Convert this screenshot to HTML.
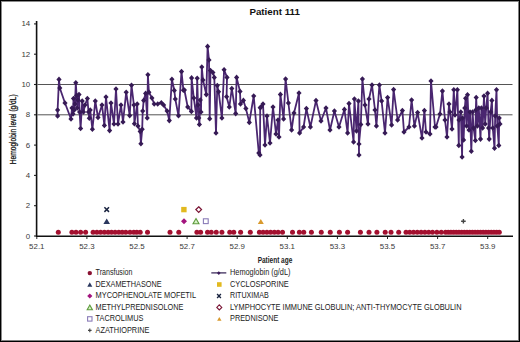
<!DOCTYPE html>
<html><head><meta charset="utf-8"><style>
html,body{margin:0;padding:0;background:#fff;}
body{width:520px;height:342px;overflow:hidden;font-family:"Liberation Sans", sans-serif;}
svg{display:block;}
</style></head><body>
<svg width="520" height="342" viewBox="0 0 520 342"><rect x="0" y="0" width="520" height="342" fill="#fff"/>
<rect x="0" y="1" width="520" height="1" fill="#8a8a8a"/>
<rect x="1" y="0" width="1" height="342" fill="#8a8a8a"/>
<rect x="518" y="0" width="1" height="342" fill="#808080"/>
<rect x="0" y="340" width="520" height="1" fill="#808080"/>
<rect x="0" y="0" width="520" height="1" fill="#000"/>
<rect x="0" y="0" width="1" height="342" fill="#000"/>
<rect x="519" y="0" width="1" height="342" fill="#000"/>
<rect x="0" y="341" width="520" height="1" fill="#000"/>
<text x="249.4" y="15.3" font-family="Liberation Sans, sans-serif" font-size="9.5" font-weight="bold" fill="#111" textLength="50.5" lengthAdjust="spacingAndGlyphs">Patient 111</text>
<line x1="37.5" y1="114.80" x2="512.5" y2="114.80" stroke="#555" stroke-width="1"/>
<line x1="37.5" y1="84.50" x2="512.5" y2="84.50" stroke="#555" stroke-width="1"/>
<line x1="34" y1="236.00" x2="37" y2="236.00" stroke="#222" stroke-width="1.1"/>
<text x="30.2" y="238.50" text-anchor="end" font-family="Liberation Sans, sans-serif" font-size="7.9" fill="#3a3a3a">0</text>
<line x1="34" y1="205.70" x2="37" y2="205.70" stroke="#222" stroke-width="1.1"/>
<text x="30.2" y="208.20" text-anchor="end" font-family="Liberation Sans, sans-serif" font-size="7.9" fill="#3a3a3a">2</text>
<line x1="34" y1="175.40" x2="37" y2="175.40" stroke="#222" stroke-width="1.1"/>
<text x="30.2" y="177.90" text-anchor="end" font-family="Liberation Sans, sans-serif" font-size="7.9" fill="#3a3a3a">4</text>
<line x1="34" y1="145.10" x2="37" y2="145.10" stroke="#222" stroke-width="1.1"/>
<text x="30.2" y="147.60" text-anchor="end" font-family="Liberation Sans, sans-serif" font-size="7.9" fill="#3a3a3a">6</text>
<line x1="34" y1="114.80" x2="37" y2="114.80" stroke="#222" stroke-width="1.1"/>
<text x="30.2" y="117.30" text-anchor="end" font-family="Liberation Sans, sans-serif" font-size="7.9" fill="#3a3a3a">8</text>
<line x1="34" y1="84.50" x2="37" y2="84.50" stroke="#222" stroke-width="1.1"/>
<text x="30.2" y="87.00" text-anchor="end" font-family="Liberation Sans, sans-serif" font-size="7.9" fill="#3a3a3a">10</text>
<line x1="34" y1="54.20" x2="37" y2="54.20" stroke="#222" stroke-width="1.1"/>
<text x="30.2" y="56.70" text-anchor="end" font-family="Liberation Sans, sans-serif" font-size="7.9" fill="#3a3a3a">12</text>
<line x1="34" y1="23.90" x2="37" y2="23.90" stroke="#222" stroke-width="1.1"/>
<text x="30.2" y="26.40" text-anchor="end" font-family="Liberation Sans, sans-serif" font-size="7.9" fill="#3a3a3a">14</text>
<line x1="36.80" y1="236" x2="36.80" y2="239" stroke="#222" stroke-width="1"/>
<text x="36.80" y="249.2" text-anchor="middle" font-family="Liberation Sans, sans-serif" font-size="7.9" fill="#3a3a3a">52.1</text>
<line x1="86.90" y1="236" x2="86.90" y2="239" stroke="#222" stroke-width="1"/>
<text x="86.90" y="249.2" text-anchor="middle" font-family="Liberation Sans, sans-serif" font-size="7.9" fill="#3a3a3a">52.3</text>
<line x1="137.00" y1="236" x2="137.00" y2="239" stroke="#222" stroke-width="1"/>
<text x="137.00" y="249.2" text-anchor="middle" font-family="Liberation Sans, sans-serif" font-size="7.9" fill="#3a3a3a">52.5</text>
<line x1="187.10" y1="236" x2="187.10" y2="239" stroke="#222" stroke-width="1"/>
<text x="187.10" y="249.2" text-anchor="middle" font-family="Liberation Sans, sans-serif" font-size="7.9" fill="#3a3a3a">52.7</text>
<line x1="237.20" y1="236" x2="237.20" y2="239" stroke="#222" stroke-width="1"/>
<text x="237.20" y="249.2" text-anchor="middle" font-family="Liberation Sans, sans-serif" font-size="7.9" fill="#3a3a3a">52.9</text>
<line x1="287.30" y1="236" x2="287.30" y2="239" stroke="#222" stroke-width="1"/>
<text x="287.30" y="249.2" text-anchor="middle" font-family="Liberation Sans, sans-serif" font-size="7.9" fill="#3a3a3a">53.1</text>
<line x1="337.40" y1="236" x2="337.40" y2="239" stroke="#222" stroke-width="1"/>
<text x="337.40" y="249.2" text-anchor="middle" font-family="Liberation Sans, sans-serif" font-size="7.9" fill="#3a3a3a">53.3</text>
<line x1="387.50" y1="236" x2="387.50" y2="239" stroke="#222" stroke-width="1"/>
<text x="387.50" y="249.2" text-anchor="middle" font-family="Liberation Sans, sans-serif" font-size="7.9" fill="#3a3a3a">53.5</text>
<line x1="437.60" y1="236" x2="437.60" y2="239" stroke="#222" stroke-width="1"/>
<text x="437.60" y="249.2" text-anchor="middle" font-family="Liberation Sans, sans-serif" font-size="7.9" fill="#3a3a3a">53.7</text>
<line x1="487.70" y1="236" x2="487.70" y2="239" stroke="#222" stroke-width="1"/>
<text x="487.70" y="249.2" text-anchor="middle" font-family="Liberation Sans, sans-serif" font-size="7.9" fill="#3a3a3a">53.9</text>
<line x1="36.6" y1="21" x2="36.6" y2="237" stroke="#111" stroke-width="1.6"/>
<line x1="36" y1="236.2" x2="513" y2="236.2" stroke="#111" stroke-width="1.6"/>
<text x="257.7" y="262.5" font-family="Liberation Sans, sans-serif" font-size="8.8" font-weight="bold" fill="#222" textLength="34.6" lengthAdjust="spacingAndGlyphs">Patient age</text>
<text transform="translate(15.8,129.3) rotate(-90)" text-anchor="middle" font-family="Liberation Sans, sans-serif" font-size="8.6" fill="#111" stroke="#111" stroke-width="0.25" textLength="70" lengthAdjust="spacingAndGlyphs">Hemoglobin level (g/dL)</text>
<circle cx="58.30" cy="232.2" r="2.5" fill="#a3102f"/>
<circle cx="71.90" cy="232.2" r="2.5" fill="#a3102f"/>
<circle cx="76.00" cy="232.2" r="2.5" fill="#a3102f"/>
<circle cx="80.60" cy="232.2" r="2.5" fill="#a3102f"/>
<circle cx="85.60" cy="232.2" r="2.5" fill="#a3102f"/>
<circle cx="93.10" cy="232.2" r="2.5" fill="#a3102f"/>
<circle cx="96.90" cy="232.2" r="2.5" fill="#a3102f"/>
<circle cx="100.60" cy="232.2" r="2.5" fill="#a3102f"/>
<circle cx="104.40" cy="232.2" r="2.5" fill="#a3102f"/>
<circle cx="108.10" cy="232.2" r="2.5" fill="#a3102f"/>
<circle cx="111.50" cy="232.2" r="2.5" fill="#a3102f"/>
<circle cx="115.10" cy="232.2" r="2.5" fill="#a3102f"/>
<circle cx="118.80" cy="232.2" r="2.5" fill="#a3102f"/>
<circle cx="122.20" cy="232.2" r="2.5" fill="#a3102f"/>
<circle cx="125.80" cy="232.2" r="2.5" fill="#a3102f"/>
<circle cx="130.00" cy="232.2" r="2.5" fill="#a3102f"/>
<circle cx="133.80" cy="232.2" r="2.5" fill="#a3102f"/>
<circle cx="136.80" cy="232.2" r="2.5" fill="#a3102f"/>
<circle cx="140.20" cy="232.2" r="2.5" fill="#a3102f"/>
<circle cx="147.50" cy="232.2" r="2.5" fill="#a3102f"/>
<circle cx="170.00" cy="232.2" r="2.5" fill="#a3102f"/>
<circle cx="178.80" cy="232.2" r="2.5" fill="#a3102f"/>
<circle cx="196.90" cy="232.2" r="2.5" fill="#a3102f"/>
<circle cx="200.60" cy="232.2" r="2.5" fill="#a3102f"/>
<circle cx="207.50" cy="232.2" r="2.5" fill="#a3102f"/>
<circle cx="211.25" cy="232.2" r="2.5" fill="#a3102f"/>
<circle cx="216.25" cy="232.2" r="2.5" fill="#a3102f"/>
<circle cx="221.90" cy="232.2" r="2.5" fill="#a3102f"/>
<circle cx="229.75" cy="232.2" r="2.5" fill="#a3102f"/>
<circle cx="233.75" cy="232.2" r="2.5" fill="#a3102f"/>
<circle cx="240.60" cy="232.2" r="2.5" fill="#a3102f"/>
<circle cx="250.30" cy="232.2" r="2.5" fill="#a3102f"/>
<circle cx="259.40" cy="232.2" r="2.5" fill="#a3102f"/>
<circle cx="263.10" cy="232.2" r="2.5" fill="#a3102f"/>
<circle cx="266.90" cy="232.2" r="2.5" fill="#a3102f"/>
<circle cx="270.60" cy="232.2" r="2.5" fill="#a3102f"/>
<circle cx="274.40" cy="232.2" r="2.5" fill="#a3102f"/>
<circle cx="278.10" cy="232.2" r="2.5" fill="#a3102f"/>
<circle cx="282.50" cy="232.2" r="2.5" fill="#a3102f"/>
<circle cx="292.50" cy="232.2" r="2.5" fill="#a3102f"/>
<circle cx="299.40" cy="232.2" r="2.5" fill="#a3102f"/>
<circle cx="303.75" cy="232.2" r="2.5" fill="#a3102f"/>
<circle cx="311.40" cy="232.2" r="2.5" fill="#a3102f"/>
<circle cx="321.25" cy="232.2" r="2.5" fill="#a3102f"/>
<circle cx="330.25" cy="232.2" r="2.5" fill="#a3102f"/>
<circle cx="339.40" cy="232.2" r="2.5" fill="#a3102f"/>
<circle cx="347.60" cy="232.2" r="2.5" fill="#a3102f"/>
<circle cx="360.40" cy="232.2" r="2.5" fill="#a3102f"/>
<circle cx="369.00" cy="232.2" r="2.5" fill="#a3102f"/>
<circle cx="376.90" cy="232.2" r="2.5" fill="#a3102f"/>
<circle cx="385.20" cy="232.2" r="2.5" fill="#a3102f"/>
<circle cx="391.00" cy="232.2" r="2.5" fill="#a3102f"/>
<circle cx="398.70" cy="232.2" r="2.5" fill="#a3102f"/>
<circle cx="406.00" cy="232.2" r="2.5" fill="#a3102f"/>
<circle cx="409.70" cy="232.2" r="2.5" fill="#a3102f"/>
<circle cx="413.50" cy="232.2" r="2.5" fill="#a3102f"/>
<circle cx="417.30" cy="232.2" r="2.5" fill="#a3102f"/>
<circle cx="421.10" cy="232.2" r="2.5" fill="#a3102f"/>
<circle cx="424.90" cy="232.2" r="2.5" fill="#a3102f"/>
<circle cx="428.70" cy="232.2" r="2.5" fill="#a3102f"/>
<circle cx="432.50" cy="232.2" r="2.5" fill="#a3102f"/>
<circle cx="436.90" cy="232.2" r="2.5" fill="#a3102f"/>
<circle cx="441.25" cy="232.2" r="2.5" fill="#a3102f"/>
<circle cx="445.50" cy="232.2" r="2.5" fill="#a3102f"/>
<circle cx="448.19" cy="232.2" r="2.5" fill="#a3102f"/>
<circle cx="450.88" cy="232.2" r="2.5" fill="#a3102f"/>
<circle cx="453.57" cy="232.2" r="2.5" fill="#a3102f"/>
<circle cx="456.26" cy="232.2" r="2.5" fill="#a3102f"/>
<circle cx="458.95" cy="232.2" r="2.5" fill="#a3102f"/>
<circle cx="461.64" cy="232.2" r="2.5" fill="#a3102f"/>
<circle cx="464.33" cy="232.2" r="2.5" fill="#a3102f"/>
<circle cx="467.02" cy="232.2" r="2.5" fill="#a3102f"/>
<circle cx="469.71" cy="232.2" r="2.5" fill="#a3102f"/>
<circle cx="472.40" cy="232.2" r="2.5" fill="#a3102f"/>
<circle cx="475.09" cy="232.2" r="2.5" fill="#a3102f"/>
<circle cx="477.78" cy="232.2" r="2.5" fill="#a3102f"/>
<circle cx="480.47" cy="232.2" r="2.5" fill="#a3102f"/>
<circle cx="483.16" cy="232.2" r="2.5" fill="#a3102f"/>
<circle cx="485.85" cy="232.2" r="2.5" fill="#a3102f"/>
<circle cx="488.54" cy="232.2" r="2.5" fill="#a3102f"/>
<circle cx="491.23" cy="232.2" r="2.5" fill="#a3102f"/>
<circle cx="493.92" cy="232.2" r="2.5" fill="#a3102f"/>
<circle cx="496.61" cy="232.2" r="2.5" fill="#a3102f"/>
<circle cx="499.30" cy="232.2" r="2.5" fill="#a3102f"/>
<path d="M57.6,116.0 L57.6,110.0 L59.0,79.4 L59.8,88.0 L65.0,103.0 L71.0,119.0 L72.0,108.0 L73.0,114.0 L73.5,98.5 L74.3,110.0 L75.0,104.0 L75.8,82.7 L76.6,95.4 L77.3,108.0 L78.0,100.0 L79.0,94.6 L79.6,112.0 L80.6,128.5 L82.2,101.0 L83.5,112.0 L85.0,105.0 L87.4,98.5 L88.5,112.0 L89.3,118.3 L90.2,110.0 L92.4,129.3 L95.3,101.0 L98.0,117.5 L102.0,105.0 L104.4,125.4 L106.0,97.0 L109.6,130.6 L111.0,103.0 L114.0,124.0 L116.0,89.0 L118.0,124.0 L121.0,105.0 L123.0,122.0 L126.2,92.2 L129.7,115.6 L131.5,85.2 L133.9,105.0 L134.4,123.8 L137.2,104.0 L137.9,126.0 L140.2,131.4 L140.9,143.7 L142.2,129.2 L142.7,111.0 L143.7,100.4 L145.6,93.4 L147.2,118.0 L147.9,74.7 L148.9,92.2 L151.9,98.0 L154.2,104.0 L157.7,104.0 L161.3,102.7 L163.6,105.0 L167.1,111.0 L169.3,120.6 L171.9,79.3 L174.3,90.4 L175.3,99.0 L178.5,115.8 L181.5,71.6 L183.4,90.2 L184.4,90.0 L187.7,107.0 L191.4,111.4 L191.6,77.9 L193.8,98.0 L196.5,118.0 L197.2,78.3 L198.0,105.0 L198.8,118.0 L199.4,124.5 L200.3,100.0 L201.0,112.0 L201.8,67.0 L203.0,80.0 L206.3,94.6 L207.6,46.4 L209.0,60.0 L209.7,118.7 L210.5,70.6 L212.9,72.5 L214.3,77.4 L216.0,133.0 L217.3,85.6 L218.6,91.7 L221.9,118.0 L224.1,69.7 L227.0,77.4 L226.6,96.8 L229.3,107.0 L231.8,88.5 L235.7,113.6 L236.6,77.4 L240.0,91.4 L240.5,104.0 L243.4,100.4 L245.9,108.5 L249.3,122.4 L253.7,96.0 L258.8,153.0 L260.0,155.0 L260.2,107.7 L261.0,107.0 L263.0,104.0 L265.0,145.0 L267.0,116.0 L270.0,143.0 L273.0,107.0 L276.0,134.0 L278.0,120.0 L279.0,137.0 L280.4,94.4 L283.6,119.0 L285.6,79.0 L288.4,103.0 L291.6,130.0 L294.0,113.0 L299.0,93.0 L299.6,133.0 L303.6,127.0 L306.4,108.6 L310.4,127.0 L316.0,100.6 L321.0,121.0 L326.0,108.0 L330.0,130.0 L334.4,111.0 L339.0,127.0 L344.4,109.4 L347.6,133.0 L349.0,103.6 L353.6,142.0 L354.4,99.0 L356.5,131.0 L358.4,101.0 L359.0,155.0 L359.0,144.0 L360.8,124.5 L362.4,79.0 L365.0,105.0 L368.0,124.0 L369.0,99.0 L372.0,85.0 L375.0,110.0 L376.4,126.0 L379.4,85.0 L381.6,101.0 L385.0,133.0 L387.6,97.6 L391.6,125.0 L393.6,89.6 L397.6,120.0 L402.4,110.6 L404.0,132.0 L409.0,127.0 L411.6,100.0 L414.4,126.0 L417.6,112.6 L422.0,138.0 L424.4,110.6 L426.0,132.0 L430.0,134.0 L431.0,81.0 L435.0,127.0 L436.0,127.0 L440.0,114.0 L442.4,91.1 L445.0,120.0 L447.0,137.0 L449.0,104.0 L450.0,112.0 L452.0,129.0 L453.8,89.8 L455.0,115.0 L457.4,89.8 L458.8,145.4 L459.0,120.0 L460.8,112.0 L462.1,157.0 L462.5,118.0 L463.6,140.0 L464.8,108.0 L465.6,98.2 L466.6,126.0 L467.5,94.7 L469.0,130.0 L470.0,112.0 L471.3,151.2 L472.6,112.0 L473.6,128.0 L475.4,140.5 L475.8,110.0 L476.2,97.5 L477.4,126.0 L478.8,108.0 L480.5,139.1 L481.4,108.0 L482.6,128.0 L484.0,96.1 L485.2,124.0 L486.2,108.0 L487.6,93.2 L488.6,128.0 L489.2,139.1 L490.6,112.0 L491.9,100.4 L492.8,128.0 L494.5,148.3 L495.2,116.0 L496.5,89.8 L497.3,126.0 L498.8,145.4 L499.2,118.0 L500.0,124.0" fill="none" stroke="#4a2670" stroke-width="1.8" stroke-linejoin="round"/>
<path d="M57.6,113.2 l2.6,2.8 l-2.6,2.8 l-2.6,-2.8z" fill="#361a55"/>
<path d="M57.6,107.2 l2.6,2.8 l-2.6,2.8 l-2.6,-2.8z" fill="#361a55"/>
<path d="M59.0,76.6 l2.6,2.8 l-2.6,2.8 l-2.6,-2.8z" fill="#361a55"/>
<path d="M59.8,85.2 l2.6,2.8 l-2.6,2.8 l-2.6,-2.8z" fill="#361a55"/>
<path d="M65.0,100.2 l2.6,2.8 l-2.6,2.8 l-2.6,-2.8z" fill="#361a55"/>
<path d="M71.0,116.2 l2.6,2.8 l-2.6,2.8 l-2.6,-2.8z" fill="#361a55"/>
<path d="M72.0,105.2 l2.6,2.8 l-2.6,2.8 l-2.6,-2.8z" fill="#361a55"/>
<path d="M73.0,111.2 l2.6,2.8 l-2.6,2.8 l-2.6,-2.8z" fill="#361a55"/>
<path d="M73.5,95.7 l2.6,2.8 l-2.6,2.8 l-2.6,-2.8z" fill="#361a55"/>
<path d="M74.3,107.2 l2.6,2.8 l-2.6,2.8 l-2.6,-2.8z" fill="#361a55"/>
<path d="M75.0,101.2 l2.6,2.8 l-2.6,2.8 l-2.6,-2.8z" fill="#361a55"/>
<path d="M75.8,79.9 l2.6,2.8 l-2.6,2.8 l-2.6,-2.8z" fill="#361a55"/>
<path d="M76.6,92.6 l2.6,2.8 l-2.6,2.8 l-2.6,-2.8z" fill="#361a55"/>
<path d="M77.3,105.2 l2.6,2.8 l-2.6,2.8 l-2.6,-2.8z" fill="#361a55"/>
<path d="M78.0,97.2 l2.6,2.8 l-2.6,2.8 l-2.6,-2.8z" fill="#361a55"/>
<path d="M79.0,91.8 l2.6,2.8 l-2.6,2.8 l-2.6,-2.8z" fill="#361a55"/>
<path d="M79.6,109.2 l2.6,2.8 l-2.6,2.8 l-2.6,-2.8z" fill="#361a55"/>
<path d="M80.6,125.7 l2.6,2.8 l-2.6,2.8 l-2.6,-2.8z" fill="#361a55"/>
<path d="M82.2,98.2 l2.6,2.8 l-2.6,2.8 l-2.6,-2.8z" fill="#361a55"/>
<path d="M83.5,109.2 l2.6,2.8 l-2.6,2.8 l-2.6,-2.8z" fill="#361a55"/>
<path d="M85.0,102.2 l2.6,2.8 l-2.6,2.8 l-2.6,-2.8z" fill="#361a55"/>
<path d="M87.4,95.7 l2.6,2.8 l-2.6,2.8 l-2.6,-2.8z" fill="#361a55"/>
<path d="M88.5,109.2 l2.6,2.8 l-2.6,2.8 l-2.6,-2.8z" fill="#361a55"/>
<path d="M89.3,115.5 l2.6,2.8 l-2.6,2.8 l-2.6,-2.8z" fill="#361a55"/>
<path d="M90.2,107.2 l2.6,2.8 l-2.6,2.8 l-2.6,-2.8z" fill="#361a55"/>
<path d="M92.4,126.5 l2.6,2.8 l-2.6,2.8 l-2.6,-2.8z" fill="#361a55"/>
<path d="M95.3,98.2 l2.6,2.8 l-2.6,2.8 l-2.6,-2.8z" fill="#361a55"/>
<path d="M98.0,114.7 l2.6,2.8 l-2.6,2.8 l-2.6,-2.8z" fill="#361a55"/>
<path d="M102.0,102.2 l2.6,2.8 l-2.6,2.8 l-2.6,-2.8z" fill="#361a55"/>
<path d="M104.4,122.6 l2.6,2.8 l-2.6,2.8 l-2.6,-2.8z" fill="#361a55"/>
<path d="M106.0,94.2 l2.6,2.8 l-2.6,2.8 l-2.6,-2.8z" fill="#361a55"/>
<path d="M109.6,127.8 l2.6,2.8 l-2.6,2.8 l-2.6,-2.8z" fill="#361a55"/>
<path d="M111.0,100.2 l2.6,2.8 l-2.6,2.8 l-2.6,-2.8z" fill="#361a55"/>
<path d="M114.0,121.2 l2.6,2.8 l-2.6,2.8 l-2.6,-2.8z" fill="#361a55"/>
<path d="M116.0,86.2 l2.6,2.8 l-2.6,2.8 l-2.6,-2.8z" fill="#361a55"/>
<path d="M118.0,121.2 l2.6,2.8 l-2.6,2.8 l-2.6,-2.8z" fill="#361a55"/>
<path d="M121.0,102.2 l2.6,2.8 l-2.6,2.8 l-2.6,-2.8z" fill="#361a55"/>
<path d="M123.0,119.2 l2.6,2.8 l-2.6,2.8 l-2.6,-2.8z" fill="#361a55"/>
<path d="M126.2,89.4 l2.6,2.8 l-2.6,2.8 l-2.6,-2.8z" fill="#361a55"/>
<path d="M129.7,112.8 l2.6,2.8 l-2.6,2.8 l-2.6,-2.8z" fill="#361a55"/>
<path d="M131.5,82.4 l2.6,2.8 l-2.6,2.8 l-2.6,-2.8z" fill="#361a55"/>
<path d="M133.9,102.2 l2.6,2.8 l-2.6,2.8 l-2.6,-2.8z" fill="#361a55"/>
<path d="M134.4,121.0 l2.6,2.8 l-2.6,2.8 l-2.6,-2.8z" fill="#361a55"/>
<path d="M137.2,101.2 l2.6,2.8 l-2.6,2.8 l-2.6,-2.8z" fill="#361a55"/>
<path d="M137.9,123.2 l2.6,2.8 l-2.6,2.8 l-2.6,-2.8z" fill="#361a55"/>
<path d="M140.2,128.6 l2.6,2.8 l-2.6,2.8 l-2.6,-2.8z" fill="#361a55"/>
<path d="M140.9,140.9 l2.6,2.8 l-2.6,2.8 l-2.6,-2.8z" fill="#361a55"/>
<path d="M142.2,126.4 l2.6,2.8 l-2.6,2.8 l-2.6,-2.8z" fill="#361a55"/>
<path d="M142.7,108.2 l2.6,2.8 l-2.6,2.8 l-2.6,-2.8z" fill="#361a55"/>
<path d="M143.7,97.6 l2.6,2.8 l-2.6,2.8 l-2.6,-2.8z" fill="#361a55"/>
<path d="M145.6,90.6 l2.6,2.8 l-2.6,2.8 l-2.6,-2.8z" fill="#361a55"/>
<path d="M147.2,115.2 l2.6,2.8 l-2.6,2.8 l-2.6,-2.8z" fill="#361a55"/>
<path d="M147.9,71.9 l2.6,2.8 l-2.6,2.8 l-2.6,-2.8z" fill="#361a55"/>
<path d="M148.9,89.4 l2.6,2.8 l-2.6,2.8 l-2.6,-2.8z" fill="#361a55"/>
<path d="M151.9,95.2 l2.6,2.8 l-2.6,2.8 l-2.6,-2.8z" fill="#361a55"/>
<path d="M154.2,101.2 l2.6,2.8 l-2.6,2.8 l-2.6,-2.8z" fill="#361a55"/>
<path d="M157.7,101.2 l2.6,2.8 l-2.6,2.8 l-2.6,-2.8z" fill="#361a55"/>
<path d="M161.3,99.9 l2.6,2.8 l-2.6,2.8 l-2.6,-2.8z" fill="#361a55"/>
<path d="M163.6,102.2 l2.6,2.8 l-2.6,2.8 l-2.6,-2.8z" fill="#361a55"/>
<path d="M167.1,108.2 l2.6,2.8 l-2.6,2.8 l-2.6,-2.8z" fill="#361a55"/>
<path d="M169.3,117.8 l2.6,2.8 l-2.6,2.8 l-2.6,-2.8z" fill="#361a55"/>
<path d="M171.9,76.5 l2.6,2.8 l-2.6,2.8 l-2.6,-2.8z" fill="#361a55"/>
<path d="M174.3,87.6 l2.6,2.8 l-2.6,2.8 l-2.6,-2.8z" fill="#361a55"/>
<path d="M175.3,96.2 l2.6,2.8 l-2.6,2.8 l-2.6,-2.8z" fill="#361a55"/>
<path d="M178.5,113.0 l2.6,2.8 l-2.6,2.8 l-2.6,-2.8z" fill="#361a55"/>
<path d="M181.5,68.8 l2.6,2.8 l-2.6,2.8 l-2.6,-2.8z" fill="#361a55"/>
<path d="M183.4,87.4 l2.6,2.8 l-2.6,2.8 l-2.6,-2.8z" fill="#361a55"/>
<path d="M184.4,87.2 l2.6,2.8 l-2.6,2.8 l-2.6,-2.8z" fill="#361a55"/>
<path d="M187.7,104.2 l2.6,2.8 l-2.6,2.8 l-2.6,-2.8z" fill="#361a55"/>
<path d="M191.4,108.6 l2.6,2.8 l-2.6,2.8 l-2.6,-2.8z" fill="#361a55"/>
<path d="M191.6,75.1 l2.6,2.8 l-2.6,2.8 l-2.6,-2.8z" fill="#361a55"/>
<path d="M193.8,95.2 l2.6,2.8 l-2.6,2.8 l-2.6,-2.8z" fill="#361a55"/>
<path d="M196.5,115.2 l2.6,2.8 l-2.6,2.8 l-2.6,-2.8z" fill="#361a55"/>
<path d="M197.2,75.5 l2.6,2.8 l-2.6,2.8 l-2.6,-2.8z" fill="#361a55"/>
<path d="M198.0,102.2 l2.6,2.8 l-2.6,2.8 l-2.6,-2.8z" fill="#361a55"/>
<path d="M198.8,115.2 l2.6,2.8 l-2.6,2.8 l-2.6,-2.8z" fill="#361a55"/>
<path d="M199.4,121.7 l2.6,2.8 l-2.6,2.8 l-2.6,-2.8z" fill="#361a55"/>
<path d="M200.3,97.2 l2.6,2.8 l-2.6,2.8 l-2.6,-2.8z" fill="#361a55"/>
<path d="M201.0,109.2 l2.6,2.8 l-2.6,2.8 l-2.6,-2.8z" fill="#361a55"/>
<path d="M201.8,64.2 l2.6,2.8 l-2.6,2.8 l-2.6,-2.8z" fill="#361a55"/>
<path d="M203.0,77.2 l2.6,2.8 l-2.6,2.8 l-2.6,-2.8z" fill="#361a55"/>
<path d="M206.3,91.8 l2.6,2.8 l-2.6,2.8 l-2.6,-2.8z" fill="#361a55"/>
<path d="M207.6,43.6 l2.6,2.8 l-2.6,2.8 l-2.6,-2.8z" fill="#361a55"/>
<path d="M209.0,57.2 l2.6,2.8 l-2.6,2.8 l-2.6,-2.8z" fill="#361a55"/>
<path d="M209.7,115.9 l2.6,2.8 l-2.6,2.8 l-2.6,-2.8z" fill="#361a55"/>
<path d="M210.5,67.8 l2.6,2.8 l-2.6,2.8 l-2.6,-2.8z" fill="#361a55"/>
<path d="M212.9,69.7 l2.6,2.8 l-2.6,2.8 l-2.6,-2.8z" fill="#361a55"/>
<path d="M214.3,74.6 l2.6,2.8 l-2.6,2.8 l-2.6,-2.8z" fill="#361a55"/>
<path d="M216.0,130.2 l2.6,2.8 l-2.6,2.8 l-2.6,-2.8z" fill="#361a55"/>
<path d="M217.3,82.8 l2.6,2.8 l-2.6,2.8 l-2.6,-2.8z" fill="#361a55"/>
<path d="M218.6,88.9 l2.6,2.8 l-2.6,2.8 l-2.6,-2.8z" fill="#361a55"/>
<path d="M221.9,115.2 l2.6,2.8 l-2.6,2.8 l-2.6,-2.8z" fill="#361a55"/>
<path d="M224.1,66.9 l2.6,2.8 l-2.6,2.8 l-2.6,-2.8z" fill="#361a55"/>
<path d="M227.0,74.6 l2.6,2.8 l-2.6,2.8 l-2.6,-2.8z" fill="#361a55"/>
<path d="M226.6,94.0 l2.6,2.8 l-2.6,2.8 l-2.6,-2.8z" fill="#361a55"/>
<path d="M229.3,104.2 l2.6,2.8 l-2.6,2.8 l-2.6,-2.8z" fill="#361a55"/>
<path d="M231.8,85.7 l2.6,2.8 l-2.6,2.8 l-2.6,-2.8z" fill="#361a55"/>
<path d="M235.7,110.8 l2.6,2.8 l-2.6,2.8 l-2.6,-2.8z" fill="#361a55"/>
<path d="M236.6,74.6 l2.6,2.8 l-2.6,2.8 l-2.6,-2.8z" fill="#361a55"/>
<path d="M240.0,88.6 l2.6,2.8 l-2.6,2.8 l-2.6,-2.8z" fill="#361a55"/>
<path d="M240.5,101.2 l2.6,2.8 l-2.6,2.8 l-2.6,-2.8z" fill="#361a55"/>
<path d="M243.4,97.6 l2.6,2.8 l-2.6,2.8 l-2.6,-2.8z" fill="#361a55"/>
<path d="M245.9,105.7 l2.6,2.8 l-2.6,2.8 l-2.6,-2.8z" fill="#361a55"/>
<path d="M249.3,119.6 l2.6,2.8 l-2.6,2.8 l-2.6,-2.8z" fill="#361a55"/>
<path d="M253.7,93.2 l2.6,2.8 l-2.6,2.8 l-2.6,-2.8z" fill="#361a55"/>
<path d="M258.8,150.2 l2.6,2.8 l-2.6,2.8 l-2.6,-2.8z" fill="#361a55"/>
<path d="M260.0,152.2 l2.6,2.8 l-2.6,2.8 l-2.6,-2.8z" fill="#361a55"/>
<path d="M260.2,104.9 l2.6,2.8 l-2.6,2.8 l-2.6,-2.8z" fill="#361a55"/>
<path d="M261.0,104.2 l2.6,2.8 l-2.6,2.8 l-2.6,-2.8z" fill="#361a55"/>
<path d="M263.0,101.2 l2.6,2.8 l-2.6,2.8 l-2.6,-2.8z" fill="#361a55"/>
<path d="M265.0,142.2 l2.6,2.8 l-2.6,2.8 l-2.6,-2.8z" fill="#361a55"/>
<path d="M267.0,113.2 l2.6,2.8 l-2.6,2.8 l-2.6,-2.8z" fill="#361a55"/>
<path d="M270.0,140.2 l2.6,2.8 l-2.6,2.8 l-2.6,-2.8z" fill="#361a55"/>
<path d="M273.0,104.2 l2.6,2.8 l-2.6,2.8 l-2.6,-2.8z" fill="#361a55"/>
<path d="M276.0,131.2 l2.6,2.8 l-2.6,2.8 l-2.6,-2.8z" fill="#361a55"/>
<path d="M278.0,117.2 l2.6,2.8 l-2.6,2.8 l-2.6,-2.8z" fill="#361a55"/>
<path d="M279.0,134.2 l2.6,2.8 l-2.6,2.8 l-2.6,-2.8z" fill="#361a55"/>
<path d="M280.4,91.6 l2.6,2.8 l-2.6,2.8 l-2.6,-2.8z" fill="#361a55"/>
<path d="M283.6,116.2 l2.6,2.8 l-2.6,2.8 l-2.6,-2.8z" fill="#361a55"/>
<path d="M285.6,76.2 l2.6,2.8 l-2.6,2.8 l-2.6,-2.8z" fill="#361a55"/>
<path d="M288.4,100.2 l2.6,2.8 l-2.6,2.8 l-2.6,-2.8z" fill="#361a55"/>
<path d="M291.6,127.2 l2.6,2.8 l-2.6,2.8 l-2.6,-2.8z" fill="#361a55"/>
<path d="M294.0,110.2 l2.6,2.8 l-2.6,2.8 l-2.6,-2.8z" fill="#361a55"/>
<path d="M299.0,90.2 l2.6,2.8 l-2.6,2.8 l-2.6,-2.8z" fill="#361a55"/>
<path d="M299.6,130.2 l2.6,2.8 l-2.6,2.8 l-2.6,-2.8z" fill="#361a55"/>
<path d="M303.6,124.2 l2.6,2.8 l-2.6,2.8 l-2.6,-2.8z" fill="#361a55"/>
<path d="M306.4,105.8 l2.6,2.8 l-2.6,2.8 l-2.6,-2.8z" fill="#361a55"/>
<path d="M310.4,124.2 l2.6,2.8 l-2.6,2.8 l-2.6,-2.8z" fill="#361a55"/>
<path d="M316.0,97.8 l2.6,2.8 l-2.6,2.8 l-2.6,-2.8z" fill="#361a55"/>
<path d="M321.0,118.2 l2.6,2.8 l-2.6,2.8 l-2.6,-2.8z" fill="#361a55"/>
<path d="M326.0,105.2 l2.6,2.8 l-2.6,2.8 l-2.6,-2.8z" fill="#361a55"/>
<path d="M330.0,127.2 l2.6,2.8 l-2.6,2.8 l-2.6,-2.8z" fill="#361a55"/>
<path d="M334.4,108.2 l2.6,2.8 l-2.6,2.8 l-2.6,-2.8z" fill="#361a55"/>
<path d="M339.0,124.2 l2.6,2.8 l-2.6,2.8 l-2.6,-2.8z" fill="#361a55"/>
<path d="M344.4,106.6 l2.6,2.8 l-2.6,2.8 l-2.6,-2.8z" fill="#361a55"/>
<path d="M347.6,130.2 l2.6,2.8 l-2.6,2.8 l-2.6,-2.8z" fill="#361a55"/>
<path d="M349.0,100.8 l2.6,2.8 l-2.6,2.8 l-2.6,-2.8z" fill="#361a55"/>
<path d="M353.6,139.2 l2.6,2.8 l-2.6,2.8 l-2.6,-2.8z" fill="#361a55"/>
<path d="M354.4,96.2 l2.6,2.8 l-2.6,2.8 l-2.6,-2.8z" fill="#361a55"/>
<path d="M356.5,128.2 l2.6,2.8 l-2.6,2.8 l-2.6,-2.8z" fill="#361a55"/>
<path d="M358.4,98.2 l2.6,2.8 l-2.6,2.8 l-2.6,-2.8z" fill="#361a55"/>
<path d="M359.0,152.2 l2.6,2.8 l-2.6,2.8 l-2.6,-2.8z" fill="#361a55"/>
<path d="M359.0,141.2 l2.6,2.8 l-2.6,2.8 l-2.6,-2.8z" fill="#361a55"/>
<path d="M360.8,121.7 l2.6,2.8 l-2.6,2.8 l-2.6,-2.8z" fill="#361a55"/>
<path d="M362.4,76.2 l2.6,2.8 l-2.6,2.8 l-2.6,-2.8z" fill="#361a55"/>
<path d="M365.0,102.2 l2.6,2.8 l-2.6,2.8 l-2.6,-2.8z" fill="#361a55"/>
<path d="M368.0,121.2 l2.6,2.8 l-2.6,2.8 l-2.6,-2.8z" fill="#361a55"/>
<path d="M369.0,96.2 l2.6,2.8 l-2.6,2.8 l-2.6,-2.8z" fill="#361a55"/>
<path d="M372.0,82.2 l2.6,2.8 l-2.6,2.8 l-2.6,-2.8z" fill="#361a55"/>
<path d="M375.0,107.2 l2.6,2.8 l-2.6,2.8 l-2.6,-2.8z" fill="#361a55"/>
<path d="M376.4,123.2 l2.6,2.8 l-2.6,2.8 l-2.6,-2.8z" fill="#361a55"/>
<path d="M379.4,82.2 l2.6,2.8 l-2.6,2.8 l-2.6,-2.8z" fill="#361a55"/>
<path d="M381.6,98.2 l2.6,2.8 l-2.6,2.8 l-2.6,-2.8z" fill="#361a55"/>
<path d="M385.0,130.2 l2.6,2.8 l-2.6,2.8 l-2.6,-2.8z" fill="#361a55"/>
<path d="M387.6,94.8 l2.6,2.8 l-2.6,2.8 l-2.6,-2.8z" fill="#361a55"/>
<path d="M391.6,122.2 l2.6,2.8 l-2.6,2.8 l-2.6,-2.8z" fill="#361a55"/>
<path d="M393.6,86.8 l2.6,2.8 l-2.6,2.8 l-2.6,-2.8z" fill="#361a55"/>
<path d="M397.6,117.2 l2.6,2.8 l-2.6,2.8 l-2.6,-2.8z" fill="#361a55"/>
<path d="M402.4,107.8 l2.6,2.8 l-2.6,2.8 l-2.6,-2.8z" fill="#361a55"/>
<path d="M404.0,129.2 l2.6,2.8 l-2.6,2.8 l-2.6,-2.8z" fill="#361a55"/>
<path d="M409.0,124.2 l2.6,2.8 l-2.6,2.8 l-2.6,-2.8z" fill="#361a55"/>
<path d="M411.6,97.2 l2.6,2.8 l-2.6,2.8 l-2.6,-2.8z" fill="#361a55"/>
<path d="M414.4,123.2 l2.6,2.8 l-2.6,2.8 l-2.6,-2.8z" fill="#361a55"/>
<path d="M417.6,109.8 l2.6,2.8 l-2.6,2.8 l-2.6,-2.8z" fill="#361a55"/>
<path d="M422.0,135.2 l2.6,2.8 l-2.6,2.8 l-2.6,-2.8z" fill="#361a55"/>
<path d="M424.4,107.8 l2.6,2.8 l-2.6,2.8 l-2.6,-2.8z" fill="#361a55"/>
<path d="M426.0,129.2 l2.6,2.8 l-2.6,2.8 l-2.6,-2.8z" fill="#361a55"/>
<path d="M430.0,131.2 l2.6,2.8 l-2.6,2.8 l-2.6,-2.8z" fill="#361a55"/>
<path d="M431.0,78.2 l2.6,2.8 l-2.6,2.8 l-2.6,-2.8z" fill="#361a55"/>
<path d="M435.0,124.2 l2.6,2.8 l-2.6,2.8 l-2.6,-2.8z" fill="#361a55"/>
<path d="M436.0,124.2 l2.6,2.8 l-2.6,2.8 l-2.6,-2.8z" fill="#361a55"/>
<path d="M440.0,111.2 l2.6,2.8 l-2.6,2.8 l-2.6,-2.8z" fill="#361a55"/>
<path d="M442.4,88.3 l2.6,2.8 l-2.6,2.8 l-2.6,-2.8z" fill="#361a55"/>
<path d="M445.0,117.2 l2.6,2.8 l-2.6,2.8 l-2.6,-2.8z" fill="#361a55"/>
<path d="M447.0,134.2 l2.6,2.8 l-2.6,2.8 l-2.6,-2.8z" fill="#361a55"/>
<path d="M449.0,101.2 l2.6,2.8 l-2.6,2.8 l-2.6,-2.8z" fill="#361a55"/>
<path d="M450.0,109.2 l2.6,2.8 l-2.6,2.8 l-2.6,-2.8z" fill="#361a55"/>
<path d="M452.0,126.2 l2.6,2.8 l-2.6,2.8 l-2.6,-2.8z" fill="#361a55"/>
<path d="M453.8,87.0 l2.6,2.8 l-2.6,2.8 l-2.6,-2.8z" fill="#361a55"/>
<path d="M455.0,112.2 l2.6,2.8 l-2.6,2.8 l-2.6,-2.8z" fill="#361a55"/>
<path d="M457.4,87.0 l2.6,2.8 l-2.6,2.8 l-2.6,-2.8z" fill="#361a55"/>
<path d="M458.8,142.6 l2.6,2.8 l-2.6,2.8 l-2.6,-2.8z" fill="#361a55"/>
<path d="M459.0,117.2 l2.6,2.8 l-2.6,2.8 l-2.6,-2.8z" fill="#361a55"/>
<path d="M460.8,109.2 l2.6,2.8 l-2.6,2.8 l-2.6,-2.8z" fill="#361a55"/>
<path d="M462.1,154.2 l2.6,2.8 l-2.6,2.8 l-2.6,-2.8z" fill="#361a55"/>
<path d="M462.5,115.2 l2.6,2.8 l-2.6,2.8 l-2.6,-2.8z" fill="#361a55"/>
<path d="M463.6,137.2 l2.6,2.8 l-2.6,2.8 l-2.6,-2.8z" fill="#361a55"/>
<path d="M464.8,105.2 l2.6,2.8 l-2.6,2.8 l-2.6,-2.8z" fill="#361a55"/>
<path d="M465.6,95.4 l2.6,2.8 l-2.6,2.8 l-2.6,-2.8z" fill="#361a55"/>
<path d="M466.6,123.2 l2.6,2.8 l-2.6,2.8 l-2.6,-2.8z" fill="#361a55"/>
<path d="M467.5,91.9 l2.6,2.8 l-2.6,2.8 l-2.6,-2.8z" fill="#361a55"/>
<path d="M469.0,127.2 l2.6,2.8 l-2.6,2.8 l-2.6,-2.8z" fill="#361a55"/>
<path d="M470.0,109.2 l2.6,2.8 l-2.6,2.8 l-2.6,-2.8z" fill="#361a55"/>
<path d="M471.3,148.4 l2.6,2.8 l-2.6,2.8 l-2.6,-2.8z" fill="#361a55"/>
<path d="M472.6,109.2 l2.6,2.8 l-2.6,2.8 l-2.6,-2.8z" fill="#361a55"/>
<path d="M473.6,125.2 l2.6,2.8 l-2.6,2.8 l-2.6,-2.8z" fill="#361a55"/>
<path d="M475.4,137.7 l2.6,2.8 l-2.6,2.8 l-2.6,-2.8z" fill="#361a55"/>
<path d="M475.8,107.2 l2.6,2.8 l-2.6,2.8 l-2.6,-2.8z" fill="#361a55"/>
<path d="M476.2,94.7 l2.6,2.8 l-2.6,2.8 l-2.6,-2.8z" fill="#361a55"/>
<path d="M477.4,123.2 l2.6,2.8 l-2.6,2.8 l-2.6,-2.8z" fill="#361a55"/>
<path d="M478.8,105.2 l2.6,2.8 l-2.6,2.8 l-2.6,-2.8z" fill="#361a55"/>
<path d="M480.5,136.3 l2.6,2.8 l-2.6,2.8 l-2.6,-2.8z" fill="#361a55"/>
<path d="M481.4,105.2 l2.6,2.8 l-2.6,2.8 l-2.6,-2.8z" fill="#361a55"/>
<path d="M482.6,125.2 l2.6,2.8 l-2.6,2.8 l-2.6,-2.8z" fill="#361a55"/>
<path d="M484.0,93.3 l2.6,2.8 l-2.6,2.8 l-2.6,-2.8z" fill="#361a55"/>
<path d="M485.2,121.2 l2.6,2.8 l-2.6,2.8 l-2.6,-2.8z" fill="#361a55"/>
<path d="M486.2,105.2 l2.6,2.8 l-2.6,2.8 l-2.6,-2.8z" fill="#361a55"/>
<path d="M487.6,90.4 l2.6,2.8 l-2.6,2.8 l-2.6,-2.8z" fill="#361a55"/>
<path d="M488.6,125.2 l2.6,2.8 l-2.6,2.8 l-2.6,-2.8z" fill="#361a55"/>
<path d="M489.2,136.3 l2.6,2.8 l-2.6,2.8 l-2.6,-2.8z" fill="#361a55"/>
<path d="M490.6,109.2 l2.6,2.8 l-2.6,2.8 l-2.6,-2.8z" fill="#361a55"/>
<path d="M491.9,97.6 l2.6,2.8 l-2.6,2.8 l-2.6,-2.8z" fill="#361a55"/>
<path d="M492.8,125.2 l2.6,2.8 l-2.6,2.8 l-2.6,-2.8z" fill="#361a55"/>
<path d="M494.5,145.5 l2.6,2.8 l-2.6,2.8 l-2.6,-2.8z" fill="#361a55"/>
<path d="M495.2,113.2 l2.6,2.8 l-2.6,2.8 l-2.6,-2.8z" fill="#361a55"/>
<path d="M496.5,87.0 l2.6,2.8 l-2.6,2.8 l-2.6,-2.8z" fill="#361a55"/>
<path d="M497.3,123.2 l2.6,2.8 l-2.6,2.8 l-2.6,-2.8z" fill="#361a55"/>
<path d="M498.8,142.6 l2.6,2.8 l-2.6,2.8 l-2.6,-2.8z" fill="#361a55"/>
<path d="M499.2,115.2 l2.6,2.8 l-2.6,2.8 l-2.6,-2.8z" fill="#361a55"/>
<path d="M500.0,121.2 l2.6,2.8 l-2.6,2.8 l-2.6,-2.8z" fill="#361a55"/>
<path d="M104.40,207.30 L109.00,211.90 M109.00,207.30 L104.40,211.90" stroke="#1a2440" stroke-width="1.5"/>
<path d="M106.70,218.40 L110.00,224.00 L103.40,224.00Z" fill="#2a375e"/>
<rect x="181.20" y="206.90" width="5.4" height="5.4" fill="#e2b91f"/>
<path d="M198.70,206.80 L201.50,209.60 L198.70,212.40 L195.90,209.60Z" fill="#fff" stroke="#7a1535" stroke-width="1.3"/>
<path d="M184.00,218.20 L187.00,221.20 L184.00,224.20 L181.00,221.20Z" fill="#a3147e"/>
<path d="M196.00,218.60 L199.00,223.80 L193.00,223.80Z" fill="#d6f2c6" stroke="#5d9a3c" stroke-width="1.1"/>
<rect x="203.40" y="218.80" width="4.8" height="4.8" fill="#fff" stroke="#8a7cb8" stroke-width="1.1"/>
<path d="M260.80,219.00 L263.80,224.00 L257.80,224.00Z" fill="#d99a2e"/>
<path d="M461.10,221.20 L465.70,221.20 M463.40,218.90 L463.40,223.50" stroke="#444" stroke-width="1.4"/>
<circle cx="89.8" cy="273.1" r="2.2" fill="#8a1232"/>
<text x="95.6" y="275.20" font-family="Liberation Sans, sans-serif" font-size="8.2" fill="#222" textLength="36.8" lengthAdjust="spacingAndGlyphs">Transfusion</text>
<path d="M89.80,282.30 L92.30,286.70 L87.30,286.70Z" fill="#2a375e"/>
<text x="95.6" y="286.60" font-family="Liberation Sans, sans-serif" font-size="8.2" fill="#222" textLength="66" lengthAdjust="spacingAndGlyphs">DEXAMETHASONE</text>
<path d="M89.80,293.40 L92.40,296.00 L89.80,298.60 L87.20,296.00Z" fill="#a3147e"/>
<text x="95.6" y="298.10" font-family="Liberation Sans, sans-serif" font-size="8.2" fill="#222" textLength="100.4" lengthAdjust="spacingAndGlyphs">MYCOPHENOLATE MOFETIL</text>
<path d="M89.80,305.10 L92.40,309.70 L87.20,309.70Z" fill="#d6f2c6" stroke="#5d9a3c" stroke-width="1.1"/>
<text x="95.6" y="309.50" font-family="Liberation Sans, sans-serif" font-size="8.2" fill="#222" textLength="87.8" lengthAdjust="spacingAndGlyphs">METHYLPREDNISOLONE</text>
<rect x="87.60" y="316.70" width="4.4" height="4.4" fill="#fff" stroke="#8a7cb8" stroke-width="1.1"/>
<text x="95.6" y="321.00" font-family="Liberation Sans, sans-serif" font-size="8.2" fill="#222" textLength="47.8" lengthAdjust="spacingAndGlyphs">TACROLIMUS</text>
<path d="M88.00,330.40 L91.60,330.40 M89.80,328.60 L89.80,332.20" stroke="#444" stroke-width="1.1"/>
<text x="95.6" y="332.50" font-family="Liberation Sans, sans-serif" font-size="8.2" fill="#222" textLength="53.8" lengthAdjust="spacingAndGlyphs">AZATHIOPRINE</text>
<line x1="211.3" y1="272.90000000000003" x2="226.3" y2="272.90000000000003" stroke="#2e1c50" stroke-width="1.2"/>
<path d="M218.80,271.30 L220.60,273.10 L218.80,274.90 L217.00,273.10Z" fill="#3a1a58"/>
<text x="230" y="275.20" font-family="Liberation Sans, sans-serif" font-size="8.2" fill="#222" textLength="60.5" lengthAdjust="spacingAndGlyphs">Hemoglobin (g/dL)</text>
<rect x="217.00" y="282.20" width="4.6" height="4.6" fill="#e2b91f"/>
<text x="230" y="286.60" font-family="Liberation Sans, sans-serif" font-size="8.2" fill="#222" textLength="58.75" lengthAdjust="spacingAndGlyphs">CYCLOSPORINE</text>
<path d="M217.10,294.10 L220.90,297.90 M220.90,294.10 L217.10,297.90" stroke="#1a2440" stroke-width="1.4"/>
<text x="230" y="298.10" font-family="Liberation Sans, sans-serif" font-size="8.2" fill="#222" textLength="38.75" lengthAdjust="spacingAndGlyphs">RITUXIMAB</text>
<path d="M219.30,304.90 L221.80,307.40 L219.30,309.90 L216.80,307.40Z" fill="#fff" stroke="#7a1535" stroke-width="1.1"/>
<text x="230" y="309.50" font-family="Liberation Sans, sans-serif" font-size="8.2" fill="#222" textLength="231.5" lengthAdjust="spacingAndGlyphs">LYMPHOCYTE IMMUNE GLOBULIN; ANTI-THYMOCYTE GLOBULIN</text>
<path d="M219.30,317.00 L221.50,320.80 L217.10,320.80Z" fill="#d99a2e"/>
<text x="230" y="321.00" font-family="Liberation Sans, sans-serif" font-size="8.2" fill="#222" textLength="48.5" lengthAdjust="spacingAndGlyphs">PREDNISONE</text></svg>
</body></html>
